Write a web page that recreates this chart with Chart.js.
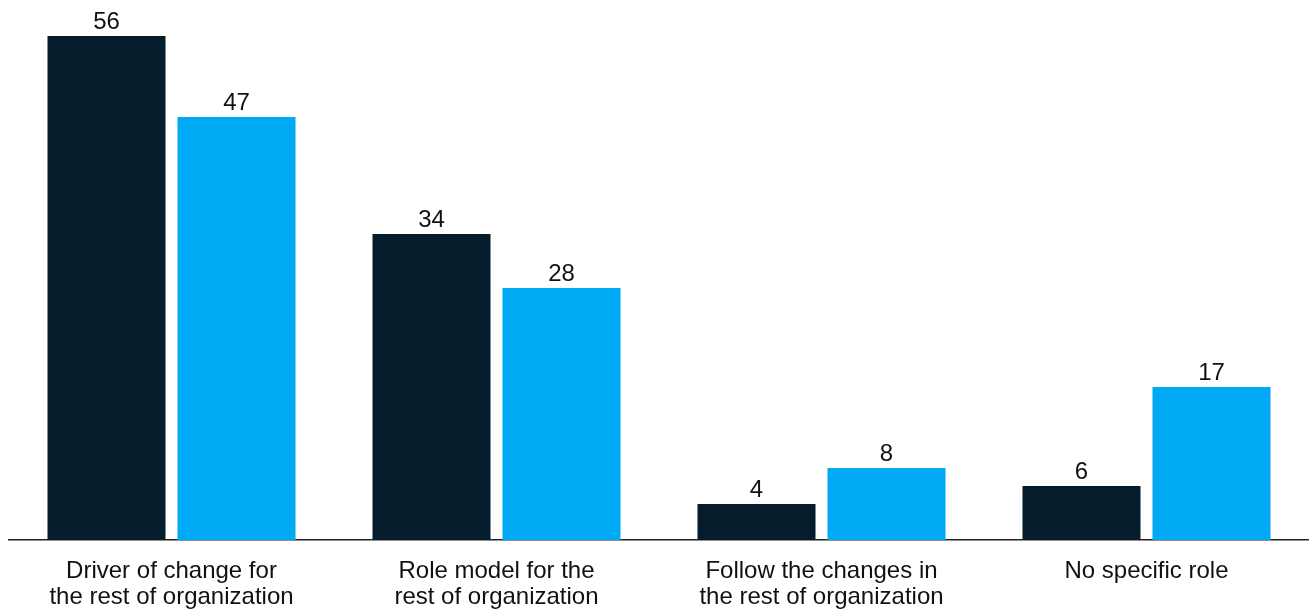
<!DOCTYPE html>
<html>
<head>
<meta charset="utf-8">
<script src="https://cdn.jsdelivr.net/npm/chart.js@4"></script>
<style>
  html, body { margin: 0; padding: 0; background: #fff; }
  #wrap { width: 1309px; height: 612px; }
</style>
</head>
<body>
<div id="wrap"><canvas id="chart"></canvas></div>
<script>
const categories = [
  ['Driver of change for', 'the rest of organization'],
  ['Role model for the', 'rest of organization'],
  ['Follow the changes in', 'the rest of organization'],
  ['No specific role']
];
const darkValues = [56, 34, 4, 6];
const blueValues = [47, 28, 8, 17];

const FONT = "'Liberation Sans', Arial, sans-serif";

// draws the number above each bar
const valueLabels = {
  id: 'valueLabels',
  afterDatasetsDraw(chart) {
    const ctx = chart.ctx;
    ctx.save();
    ctx.font = '24px ' + FONT;
    ctx.fillStyle = '#111';
    ctx.textAlign = 'center';
    ctx.textBaseline = 'alphabetic';
    chart.data.datasets.forEach((ds, i) => {
      chart.getDatasetMeta(i).data.forEach((bar, j) => {
        ctx.fillText(ds.data[j], bar.x, bar.y - 7);
      });
    });
    ctx.restore();
  }
};

new Chart(document.getElementById('chart'), {
  type: 'bar',
  data: {
    labels: categories,
    datasets: [{
      data: darkValues,
      backgroundColor: '#051c2c',
      categoryPercentage: 0.8,
      barPercentage: 0.9077,
    }, {
      data: blueValues,
      backgroundColor: '#00a9f4',
      categoryPercentage: 0.8,
      barPercentage: 0.9077,
    }],
  },
  options: {
    responsive: true,
    maintainAspectRatio: false,
    animation: false,
    layout: { padding: { left: 9, right: 0, top: 0, bottom: 0 } },
    plugins: {
      legend: { display: false },
      tooltip: { enabled: false },
    },
    scales: {
      x: {
        grid: { display: false, drawTicks: false },
        border: { display: true, color: '#222', width: 1.5 },
        ticks: {
          color: '#111',
          font: { family: FONT, size: 24, lineHeight: 1.08 },
          padding: 18,
          maxRotation: 0,
          autoSkip: false,
        },
        afterFit(scale) { scale.height = 72; },
      },
      y: {
        display: false,
        min: 0,
        max: 60,
      },
    },
  },
  plugins: [valueLabels],
});
</script>
</body>
</html>
